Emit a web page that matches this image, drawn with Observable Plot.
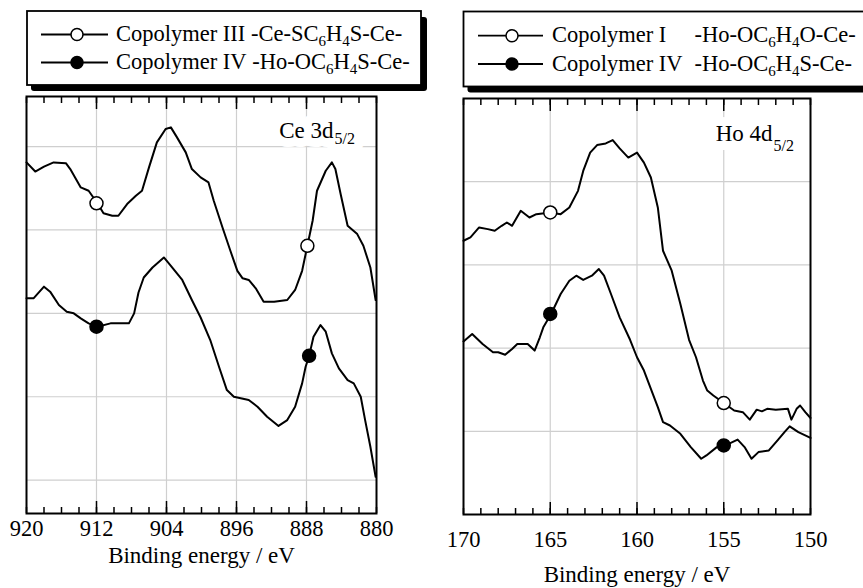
<!DOCTYPE html>
<html><head><meta charset="utf-8">
<script src="https://cdn.jsdelivr.net/npm/d3@7"></script>
<script src="https://cdn.jsdelivr.net/npm/@observablehq/plot@0.6"></script>
<style>
body{margin:0;background:#fff;}
#wrap{position:relative;width:863px;height:588px;overflow:hidden;font-family:"Liberation Serif","Times New Roman",serif;background:#fff;}
.panel{position:absolute;top:0;}
#legend{position:absolute;left:0;top:0;}
#wrap svg, #wrap svg text{font-family:"Liberation Serif","Times New Roman",serif !important;}
</style></head><body><div id="wrap"></div>
<script>
// ---------- Ce 3d5/2 panel data (binding energy eV, intensity a.u.) ----------
const ceE_III = [920,919,918,916.9,915.5,915,913.8,912.9,911.9,911.2,910.2,909.5,908.5,907.5,906.8,906.0,905.1,904.1,903.5,902.8,901.8,901.1,900.1,899.2,898.6,897.6,896.7,895.9,895.3,894.6,893.8,892.9,891.7,890.2,889.3,888.5,887.9,887.3,886.8,885.8,885.1,884.7,884.1,883.3,882.2,881.5,880.7,880.1];
const ceI_III = [3.81,3.70,3.76,3.81,3.80,3.73,3.51,3.47,3.32,3.20,3.17,3.17,3.31,3.41,3.47,3.75,4.05,4.21,4.23,4.11,3.93,3.73,3.63,3.57,3.35,3.03,2.75,2.51,2.42,2.40,2.30,2.14,2.14,2.16,2.28,2.51,2.81,3.11,3.47,3.71,3.81,3.73,3.43,3.05,2.95,2.81,2.55,2.16];
const ceE_IV = [920,919.2,918,917.3,916.3,915.4,914.6,913.8,912.9,911.9,910.4,909.5,908.3,907.7,907.2,906.6,905.6,904.3,903.5,902.2,901.1,900.1,899.0,898.0,897.1,896.3,894.6,893.6,892.5,891.2,890.2,889.3,888.5,888.1,887.7,887.2,886.4,885.8,885.1,884.3,883.3,882.6,881.8,881.3,880.7,880.1];
const ceI_IV = [2.18,2.18,2.32,2.26,2.10,2.02,2.00,1.94,1.88,1.84,1.88,1.88,1.88,2.00,2.25,2.43,2.55,2.67,2.57,2.40,2.16,1.95,1.68,1.36,1.08,1.00,0.96,0.88,0.76,0.65,0.72,0.88,1.16,1.36,1.49,1.72,1.86,1.78,1.52,1.34,1.20,1.16,1.00,0.72,0.40,0.04];
const ceMarkE_III = [912, 887.9];
const ceMarkI_III = [3.32, 2.81];
const ceMarkE_IV = [912, 887.7];
const ceMarkI_IV = [1.84, 1.49];
const ceMinorTicks = d3.range(880, 921, 2);
const ceMajorTicks = [912, 904, 896, 888];
const ceTickLabels = [920, 912, 904, 896, 888, 880];
const ceYGrid = [0, 1, 2, 3, 4];

// ---------- Ho 4d5/2 panel data ----------
const hoE_I = [170,169.6,169.1,168.6,168.2,167.8,167.5,167.2,166.7,166.2,165.8,165.0,164.4,163.9,163.4,163.1,162.7,162.3,161.8,161.4,161.0,160.5,160.0,159.6,159.2,158.8,158.5,158.0,157.5,157.0,156.6,156.2,155.95,155.6,155.0,154.4,153.9,153.5,153.1,152.8,152.5,152.0,151.3,151.1,150.8,150.6,150.3,150.0];
const hoI_I = [3.29,3.33,3.45,3.43,3.41,3.47,3.51,3.47,3.65,3.57,3.61,3.63,3.61,3.69,3.89,4.13,4.35,4.44,4.46,4.50,4.40,4.29,4.35,4.23,4.05,3.69,3.17,2.93,2.53,2.10,1.89,1.61,1.49,1.43,1.34,1.25,1.23,1.14,1.26,1.24,1.27,1.26,1.27,1.14,1.27,1.31,1.23,1.16];
const hoE_IV = [170,169.5,168.9,168.3,168.0,167.6,167.2,166.9,166.3,165.9,165.6,165.4,164.95,164.4,163.9,163.5,163.1,162.6,162.2,161.9,161.5,161.0,160.4,160.0,159.6,159.2,158.8,158.5,158.1,157.5,156.9,156.3,156.0,155.4,154.9,154.2,153.8,153.4,153.0,152.4,151.9,151.5,151.2,150.7,150.0];
const hoI_IV = [2.08,2.17,2.05,1.95,1.95,1.92,1.99,2.05,2.05,1.97,2.13,2.25,2.41,2.65,2.81,2.87,2.82,2.87,2.95,2.87,2.65,2.37,2.10,1.89,1.73,1.51,1.29,1.11,1.07,0.97,0.81,0.67,0.71,0.81,0.83,0.90,0.81,0.67,0.75,0.77,0.89,0.99,1.06,0.99,0.92];
const hoMarkE = [165, 155];
const hoMarkI_I = [3.63, 1.34];
const hoMarkI_IV = [2.41, 0.83];
const hoMinorTicks = d3.range(150, 171, 1);
const hoMajorTicks = [165, 160, 155];
const hoTickLabels = [170, 165, 160, 155, 150];
const hoYGrid = [1, 2, 3, 4];

// ---------- text ----------
const xTitle = ["Binding energy / eV"];
const ceLabel = ["Ce 3d", "5/2"];
const hoLabel = ["Ho 4d", "5/2"];
const ceLegendNames = ["Copolymer III", "Copolymer IV"];
const ceLegendFormulas = ["-Ce-SC_6H_4S-Ce-", "-Ho-OC_6H_4S-Ce-"];
const hoLegendNames = ["Copolymer I", "Copolymer IV"];
const hoLegendFormulas = ["-Ho-OC_6H_4O-Ce-", "-Ho-OC_6H_4S-Ce-"];

const FONT = "'Liberation Serif', 'Times New Roman', serif";
const GRID = "#cfcfcf";

function panel(o) {
  const tickOpts = {tickFormat: () => "", strokeWidth: 1.5, label: null};
  const svg = Plot.plot({
    width: o.width, height: 588,
    marginLeft: o.ml, marginRight: o.mr, marginTop: o.mt, marginBottom: o.mb,
    style: `font-family: ${FONT}; font-size: 22px; background: transparent; overflow: visible; color: black;`,
    x: {domain: o.xDomain, label: null},
    y: {domain: o.yDomain, axis: null, label: null},
    marks: [
      Plot.gridX(o.major, {stroke: GRID, strokeOpacity: 1, strokeWidth: 1.2}),
      Plot.gridY(o.yGrid, {stroke: GRID, strokeOpacity: 1, strokeWidth: 1.2}),
      Plot.text([o.label[0]], {frameAnchor: "top-right", dx: o.lx, dy: o.ly, textAnchor: "end", lineAnchor: "bottom", fontFamily: FONT, fontSize: 23, fill: "white", stroke: "white", strokeWidth: 18, strokeLinejoin: "round"}),
      Plot.text([o.label[1]], {frameAnchor: "top-right", dx: o.lx + 1, dy: o.ly + o.subDy, textAnchor: "start", lineAnchor: "bottom", fontFamily: FONT, fontSize: 16, fill: "white", stroke: "white", strokeWidth: 18, strokeLinejoin: "round"}),
      Plot.text([o.label[0]], {frameAnchor: "top-right", dx: o.lx, dy: o.ly, textAnchor: "end", lineAnchor: "bottom", fontFamily: FONT, fontSize: 23, fill: "black"}),
      Plot.text([o.label[1]], {frameAnchor: "top-right", dx: o.lx + 1, dy: o.ly + o.subDy, textAnchor: "start", lineAnchor: "bottom", fontFamily: FONT, fontSize: 16, fill: "black"}),
      Plot.line(o.e1, {x: o.e1, y: o.i1, stroke: "black", strokeWidth: 2}),
      Plot.line(o.e2, {x: o.e2, y: o.i2, stroke: "black", strokeWidth: 2}),
      Plot.dot(o.m1e, {x: o.m1e, y: o.m1i, r: 6.5, fill: "white", stroke: "black", strokeWidth: 1.5}),
      Plot.dot(o.m2e, {x: o.m2e, y: o.m2i, r: 6.5, fill: "black", stroke: "black", strokeWidth: 1.5}),
      Plot.frame({stroke: "black", strokeWidth: 2}),
      Plot.axisX(o.minor, {anchor: "bottom", tickSize: -6, ...tickOpts}),
      Plot.axisX(o.major, {anchor: "bottom", tickSize: -12, ...tickOpts}),
      Plot.axisX(o.minor, {anchor: "top", tickSize: -6, ...tickOpts}),
      Plot.axisX(o.major, {anchor: "top", tickSize: -12, ...tickOpts}),
      Plot.axisX(o.labels, {anchor: "bottom", tickSize: 0, tickPadding: o.tickPad, fontFamily: FONT, fontSize: 22.5, label: null, tickFormat: d => String(d)}),
      Plot.text(xTitle, {frameAnchor: "bottom", dy: o.titleDy, lineAnchor: "bottom", fontFamily: FONT, fontSize: 23, fill: "black"})
    ]
  });
  svg.setAttribute("font-family", FONT);
  return svg;
}

const wrap = document.getElementById("wrap");

const left = panel({
  width: 431, ml: 26, mr: 55, mt: 96, mb: 75,
  xDomain: [920, 880], yDomain: [-0.4, 4.6], yGrid: ceYGrid,
  minor: ceMinorTicks, major: ceMajorTicks, labels: ceTickLabels,
  e1: ceE_III, i1: ceI_III, e2: ceE_IV, i2: ceI_IV,
  m1e: ceMarkE_III, m1i: ceMarkI_III, m2e: ceMarkE_IV, m2i: ceMarkI_IV,
  label: ceLabel, lx: -43, ly: 41, subDy: 6, tickPad: 7, titleDy: 49
});
const ld = document.createElement("div"); ld.className = "panel"; ld.style.left = "0px"; ld.style.width = "431px";
ld.appendChild(left); wrap.appendChild(ld);

const right = panel({
  width: 432, ml: 32, mr: 53, mt: 98, mb: 74,
  xDomain: [170, 150], yDomain: [0, 5], yGrid: hoYGrid,
  minor: hoMinorTicks, major: hoMajorTicks, labels: hoTickLabels,
  e1: hoE_I, i1: hoI_I, e2: hoE_IV, i2: hoI_IV,
  m1e: hoMarkE, m1i: hoMarkI_I, m2e: hoMarkE, m2i: hoMarkI_IV,
  label: hoLabel, lx: -38, ly: 42, subDy: 10, tickPad: 17, titleDy: 67
});
const rd = document.createElement("div"); rd.className = "panel"; rd.style.left = "431px"; rd.style.width = "432px";
rd.appendChild(right); wrap.appendChild(rd);

// ---------- legends ----------
const svg = d3.select(wrap).append("svg").attr("id", "legend").attr("width", 863).attr("height", 96)
  .attr("font-family", FONT);

function addFormula(textSel, s) {
  const parts = s.split(/(_\d)/).filter(p => p.length);
  let sub = false;
  parts.forEach(p => {
    if (p.startsWith("_")) {
      textSel.append("tspan").attr("dy", 5).attr("font-size", 15).text(p.slice(1));
      sub = true;
    } else {
      textSel.append("tspan").attr("dy", sub ? -5 : 0).text(p);
      sub = false;
    }
  });
}

function legend(cfg) {
  const g = svg.append("g");
  g.append("rect").attr("x", cfg.x + 4).attr("y", cfg.y + 6).attr("width", cfg.w + 2).attr("height", cfg.h).attr("rx", 3).attr("fill", "black");
  g.append("rect").attr("x", cfg.x).attr("y", cfg.y).attr("width", cfg.w).attr("height", cfg.h)
    .attr("fill", "white").attr("stroke", "black").attr("stroke-width", 1.8);
  const nameW = [];
  cfg.names.forEach((n, i) => {
    const y = cfg.rows[i];
    g.append("line").attr("x1", cfg.lx1).attr("x2", cfg.lx2).attr("y1", y).attr("y2", y).attr("stroke", "black").attr("stroke-width", 1.8);
    g.append("circle").attr("cx", cfg.cx).attr("cy", y).attr("r", 6).attr("fill", i === 0 ? "white" : "black").attr("stroke", "black").attr("stroke-width", 1.5);
    const t = g.append("text").attr("x", cfg.tx).attr("y", y + 6.5).attr("font-size", 22.5).text(n);
    nameW.push(t.node().getComputedTextLength());
  });
  const spaceW = 5.6;
  const maxW = d3.max(nameW);
  cfg.formulas.forEach((f, i) => {
    const y = cfg.rows[i];
    const fx = cfg.align ? cfg.tx + maxW + cfg.tab : cfg.tx + nameW[i] + spaceW;
    const t = g.append("text").attr("x", fx).attr("y", y + 6.5).attr("font-size", 22.5);
    addFormula(t, f);
  });
}

legend({x: 27, y: 11, w: 394, h: 74, rows: [34.5, 62.5], lx1: 41, lx2: 108, cx: 77, tx: 116,
  names: ceLegendNames, formulas: ceLegendFormulas, align: false});
legend({x: 463.5, y: 11.5, w: 420, h: 75, rows: [35.7, 64], lx1: 478, lx2: 543, cx: 512, tx: 552,
  names: hoLegendNames, formulas: hoLegendFormulas, align: true, tab: 12});
</script></body></html>
